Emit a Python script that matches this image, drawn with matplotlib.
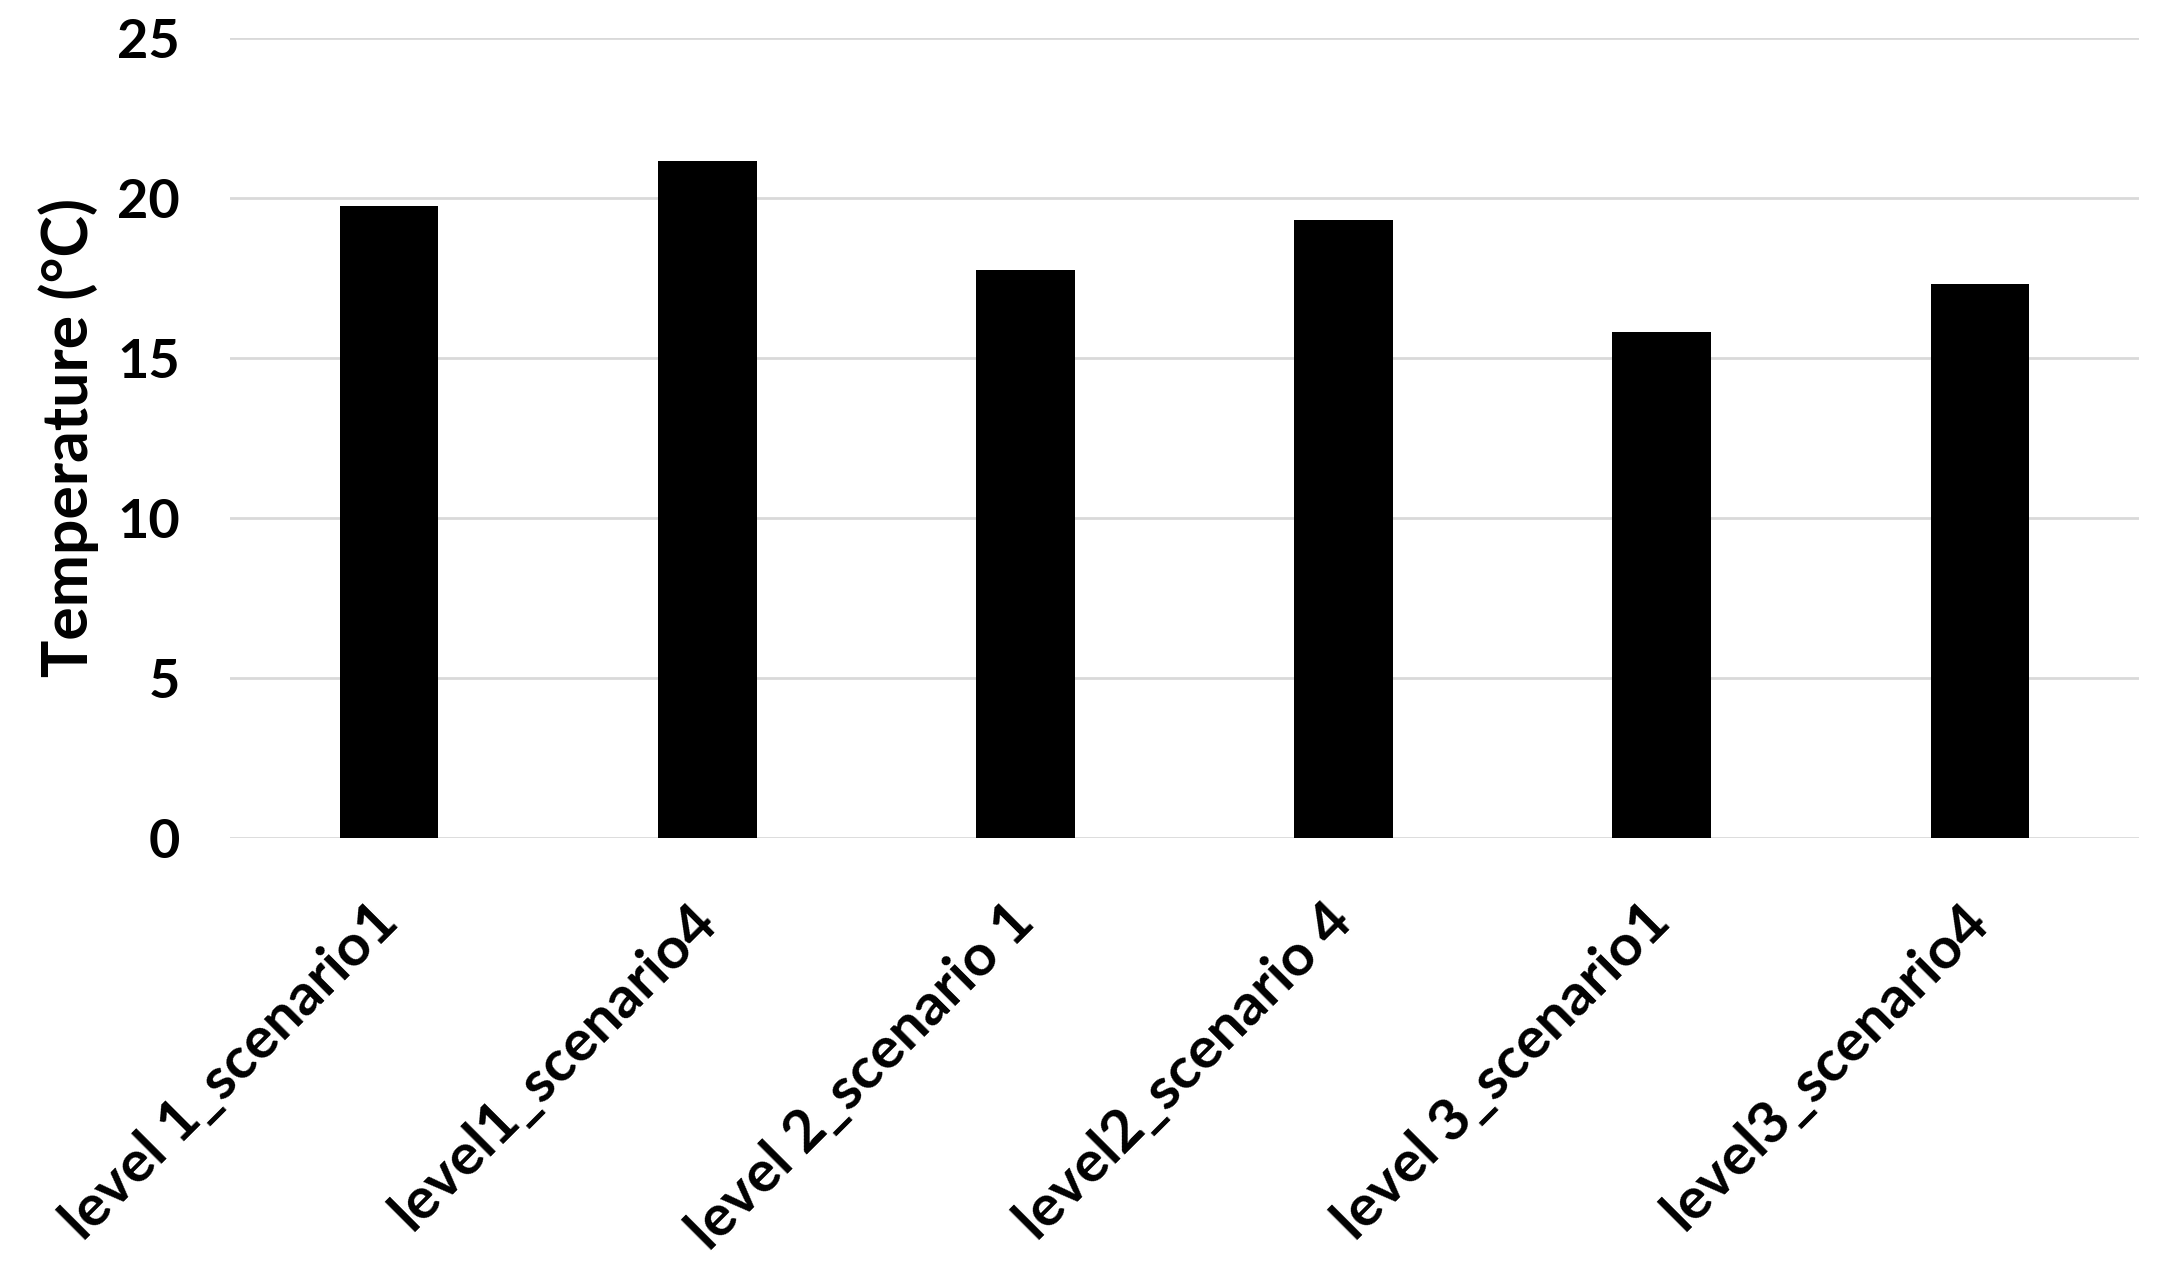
import matplotlib
matplotlib.use("Agg")
import matplotlib.pyplot as plt
import numpy as np

categories = ["level 1_scenario1", "level1_scenario4", "level 2_scenario 1",
              "level2_scenario 4", "level 3_scenario1", "level3_scenario4"]
temperatures = [19.75, 21.15, 17.75, 19.3, 15.8, 17.3]
yticks = [0, 5, 10, 15, 20, 25]

plt.rcParams['font.family'] = ['Lato', 'DejaVu Sans']

fig = plt.figure(figsize=(21.82, 12.73), dpi=100)
ax = fig.add_axes([0.1054, 0.3417, 0.9803 - 0.1054, 0.9704 - 0.3417])

x = np.arange(len(categories))
ax.bar(x, temperatures, width=0.31, color='black', zorder=3)

ax.set_ylim(0, 25)
ax.set_xlim(-0.5, len(categories) - 0.5)
ax.set_yticks(yticks)
ax.set_yticklabels([str(t) for t in yticks], fontsize=39, fontweight='bold')
ax.yaxis.grid(True, color='#d9d9d9', linewidth=2, zorder=0)
ax.set_axisbelow(True)
for s in ax.spines.values():
    s.set_visible(False)
ax.tick_params(axis='both', length=0)
ax.tick_params(axis='y', pad=36)

ax.set_xticks(x)
ax.set_xticklabels(categories, fontsize=42, fontweight='bold', rotation=45,
                   ha='right', va='center', rotation_mode='anchor')
ax.tick_params(axis='x', pad=54)

ax.set_ylabel("Temperature (°C)", fontsize=45, fontweight='bold', labelpad=13)

fig.savefig("out.png", dpi=100, facecolor='white')
